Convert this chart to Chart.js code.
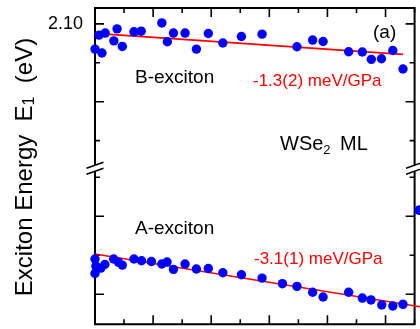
<!DOCTYPE html>
<html>
<head>
<meta charset="utf-8">
<script src="https://cdn.jsdelivr.net/npm/chart.js@4"></script>
<style>
  body { margin: 0; background: #fff; }
  canvas { display: block; }
</style>
</head>
<body>
<canvas id="chart" width="420" height="329"></canvas>
<script>
// pressure (GPa) and exciton energy (eV)
const bPressure = [0.0, 0.14, 0.24, 0.35, 0.65, 0.76, 0.94, 1.34, 1.59, 2.30, 2.49, 2.70, 3.10, 3.49,
  3.90, 4.40, 5.04, 5.75, 6.95, 7.49, 7.85, 8.73, 9.20, 9.51, 9.86, 10.25, 10.60];
const bEnergy = [2.0838, 2.0928, 2.0813, 2.0941, 2.0891, 2.0968, 2.0855, 2.0949, 2.0953, 2.1006, 2.0885,
  2.0941, 2.0941, 2.0838, 2.0938, 2.0877, 2.0919, 2.0934, 2.0853, 2.0896, 2.0887, 2.0821, 2.0819,
  2.0772, 2.0776, 2.0829, 2.0710];

const aPressure = [0.0, 0.0, 0.03, 0.20, 0.34, 0.64, 0.81, 0.94, 1.34, 1.60, 1.94, 2.30, 2.48, 2.70,
  3.10, 3.49, 3.90, 4.40, 5.04, 5.75, 6.45, 6.95, 7.49, 7.85, 8.73, 9.20, 9.50, 9.87, 10.25, 10.60, 11.16];
const aEnergy = [1.6726, 1.6634, 1.6681, 1.6668, 1.6691, 1.6726, 1.6705, 1.6687, 1.6726, 1.6715, 1.6710,
  1.6694, 1.6707, 1.6660, 1.6694, 1.6662, 1.6665, 1.6638, 1.6625, 1.6604, 1.6568, 1.6551, 1.6513,
  1.6483, 1.6513, 1.6476, 1.6464, 1.6432, 1.6425, 1.6436, 1.7039];

// linear fits (end points)
const bFitPressure = [0, 10.6];
const bFitEnergy = [2.0939, 2.0804];
const aFitPressure = [0, 11.19];
const aFitEnergy = [1.6758, 1.6420];

// ticks
const xTicks = [0, 1, 2, 3, 4, 5, 6, 7, 8, 9, 10, 11];
const bTicks = [2.025, 2.05, 2.075, 2.10];
const aTicks = [1.65, 1.675, 1.70, 1.725];

const pts = (xs, ys) => xs.map((x, i) => ({ x: x, y: ys[i] }));
const isMajor = (v, step) => Math.abs(v / step - Math.round(v / step)) < 1e-6;
const FONT = '"Liberation Sans", Arial, sans-serif';
const DOT = 4.7;

// fixed axis width, no extra label padding
function fitAxis(s) {
  s.width = 95;
  s.paddingTop = 0;
  s.paddingBottom = 0;
}

// frame, inward ticks and axis break
const framePlugin = {
  id: 'frame',
  beforeDatasetsDraw(chart) {
    const { ctx, chartArea: a, scales } = chart;
    const brk = scales.yB.bottom;
    ctx.save();
    ctx.strokeStyle = '#000';
    ctx.lineWidth = 2;
    ctx.beginPath();
    ctx.moveTo(a.left - 1, a.top); ctx.lineTo(a.right + 1, a.top);
    ctx.moveTo(a.left - 1, a.bottom); ctx.lineTo(a.right + 1, a.bottom);
    [a.left, a.right].forEach(px => {
      ctx.moveTo(px, a.top); ctx.lineTo(px, brk - 3);
      ctx.moveTo(px, brk + 3); ctx.lineTo(px, a.bottom);
    });
    ctx.stroke();

    ctx.lineWidth = 1.6;
    ctx.beginPath();
    xTicks.forEach(v => {
      const px = scales.x.getPixelForValue(v);
      const len = isMajor(v, 2) ? 9 : 5;
      ctx.moveTo(px, a.top); ctx.lineTo(px, a.top + len);
      ctx.moveTo(px, a.bottom); ctx.lineTo(px, a.bottom - len);
    });
    [[scales.yB, bTicks], [scales.yA, aTicks]].forEach(([s, t]) => t.forEach(v => {
      const py = s.getPixelForValue(v);
      const len = isMajor(v, 0.05) ? 9 : 5;
      ctx.moveTo(a.left, py); ctx.lineTo(a.left + len, py);
      ctx.moveTo(a.right, py); ctx.lineTo(a.right - len, py);
    }));
    // break marks
    [a.left, a.right].forEach(px => {
      [-3, 3].forEach(d => {
        ctx.moveTo(px - 8.5, brk + d + 3);
        ctx.lineTo(px + 8.5, brk + d - 3);
      });
    });
    ctx.stroke();
    ctx.restore();
  },
  afterDatasetsDraw(chart) {
    // points that lie outside the axes are skipped by Chart.js; draw them here
    const { ctx, chartArea: a, scales } = chart;
    ctx.save();
    ctx.fillStyle = '#0000ff';
    aPressure.forEach((p, i) => {
      const px = scales.x.getPixelForValue(p);
      const py = scales.yA.getPixelForValue(aEnergy[i]);
      if (px > a.right + DOT / 2) {
        ctx.beginPath();
        ctx.arc(px, py, DOT, 0, Math.PI * 2);
        ctx.fill();
      }
    });
    ctx.restore();
  },
  afterDraw(chart) {
    const ctx = chart.ctx;
    ctx.save();
    ctx.fillStyle = '#000';
    ctx.textAlign = 'left';
    ctx.textBaseline = 'middle';
    ctx.font = '19px ' + FONT;
    ctx.fillText('B-exciton', 135, 78);
    ctx.fillText('A-exciton', 135, 229);
    ctx.fillText('(a)', 373, 33);

    ctx.fillStyle = '#ff0000';
    ctx.font = '17px ' + FONT;
    ctx.fillText('-1.3(2) meV/GPa', 253, 81);
    ctx.fillText('-3.1(1) meV/GPa', 254, 259);

    // WSe2 ML
    ctx.fillStyle = '#000';
    ctx.textBaseline = 'alphabetic';
    ctx.font = '20px ' + FONT;
    ctx.fillText('WSe', 280, 150);
    const w = ctx.measureText('WSe').width;
    ctx.font = '13px ' + FONT;
    ctx.fillText('2', 280 + w, 154);
    ctx.font = '20px ' + FONT;
    ctx.fillText('ML', 340, 150);

    // y title
    const parts = [['Exciton Energy  E', 24, 0], ['1', 16, 2], ['  (eV)', 24, 0]];
    let total = 0;
    parts.forEach(p => { ctx.font = p[1] + 'px ' + FONT; total += ctx.measureText(p[0]).width; });
    ctx.translate(31.5, 167);
    ctx.rotate(-Math.PI / 2);
    let x = -total / 2;
    parts.forEach(p => {
      ctx.font = p[1] + 'px ' + FONT;
      ctx.fillText(p[0], x, p[2]);
      x += ctx.measureText(p[0]).width;
    });
    ctx.restore();
  }
};

const ctx = document.getElementById('chart').getContext('2d');
const chart = new Chart(ctx, {
  type: 'scatter',
  data: {
    datasets: [
      { label: 'B fit', type: 'line', data: pts(bFitPressure, bFitEnergy), yAxisID: 'yB',
        borderColor: '#ff0000', borderWidth: 1.6, pointRadius: 0, order: 2, clip: false },
      { label: 'A fit', type: 'line', data: pts(aFitPressure, aFitEnergy), yAxisID: 'yA',
        borderColor: '#ff0000', borderWidth: 1.6, pointRadius: 0, order: 2, clip: false },
      { label: 'B-exciton', data: pts(bPressure, bEnergy), yAxisID: 'yB',
        backgroundColor: '#0000ff', borderWidth: 0, pointRadius: DOT, order: 1, clip: false },
      { label: 'A-exciton', data: pts(aPressure, aEnergy), yAxisID: 'yA',
        backgroundColor: '#0000ff', borderWidth: 0, pointRadius: DOT, order: 1, clip: false }
    ]
  },
  options: {
    responsive: false,
    animation: false,
    devicePixelRatio: 1,
    layout: { padding: { top: 8, right: 5.4, bottom: 3, left: 0 } },
    plugins: { legend: { display: false }, tooltip: { enabled: false } },
    scales: {
      x: { type: 'linear', min: 0, max: 11, display: false },
      yA: {
        type: 'linear', position: 'left', stack: 'e', stackWeight: 157,
        min: 1.6308, max: 1.7308,
        grid: { display: false, drawTicks: false }, border: { display: false },
        afterBuildTicks: s => { s.ticks = aTicks.map(v => ({ value: v })); },
        ticks: { callback: () => '', autoSkip: false },
        afterFit: fitAxis
      },
      yB: {
        type: 'linear', position: 'left', stack: 'e', stackWeight: 161,
        min: 2.0073, max: 2.1102,
        grid: { display: false, drawTicks: false }, border: { display: false },
        afterBuildTicks: s => { s.ticks = bTicks.map(v => ({ value: v })); },
        ticks: {
          autoSkip: false, padding: 12, color: '#000',
          font: { family: FONT, size: 18 },
          callback: v => (Math.abs(v - 2.10) < 1e-6 ? '2.10' : '')
        },
        afterFit: fitAxis
      }
    }
  },
  plugins: [framePlugin]
});
</script>
</body>
</html>
